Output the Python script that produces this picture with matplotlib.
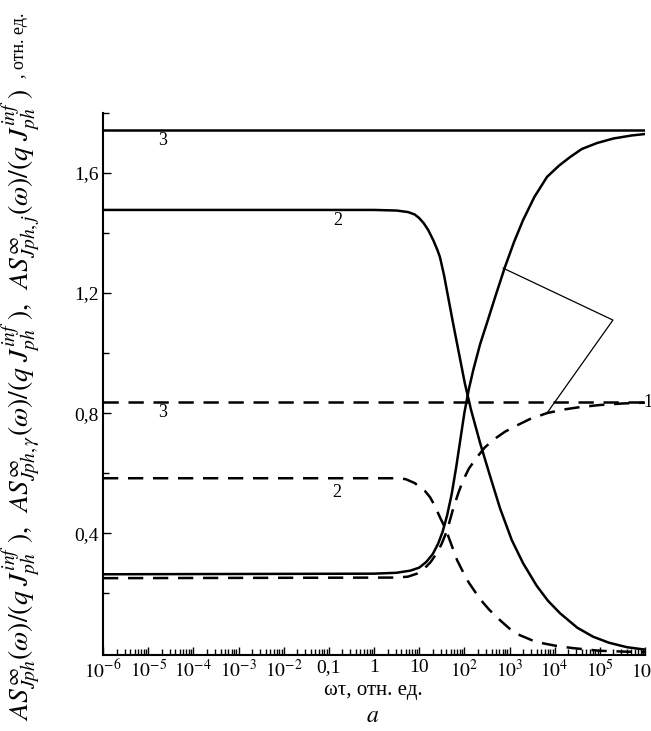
import numpy as np
import matplotlib
matplotlib.use("Agg")
import matplotlib.pyplot as plt
from matplotlib.ticker import FixedLocator, LogLocator, NullFormatter

plt.rcParams['font.family'] = ['Liberation Serif', 'DejaVu Serif']
plt.rcParams['mathtext.fontset'] = 'stix'
plt.rcParams['lines.scale_dashes'] = False

# ---- data (log10 of omega*tau, value) ----
solid1_logx = [-6, 0, 0.5, 0.8, 1.0, 1.15, 1.3, 1.42, 1.52, 1.62, 1.72, 1.82, 1.9, 2.0, 2.1, 2.2, 2.35, 2.5, 2.7,
               2.9, 3.1, 3.3, 3.55, 3.83, 4.1, 4.34, 4.6, 4.94, 5.3, 5.7, 6.0]
solid1_y    = [0.263, 0.265, 0.268, 0.275, 0.285, 0.303, 0.33, 0.365, 0.405, 0.46, 0.53, 0.62, 0.70, 0.80, 0.88, 0.945, 1.03, 1.10, 1.195,
               1.287, 1.37, 1.443, 1.52, 1.587, 1.625, 1.653, 1.68, 1.70, 1.715, 1.725, 1.73]

solid2_logx = [-6, 0, 0.5, 0.75, 0.9, 1.0, 1.1, 1.2, 1.31, 1.4, 1.46, 1.55, 1.65, 1.75, 1.88, 2.01, 2.15, 2.35, 2.55,
               2.79, 3.05, 3.3, 3.6, 3.85, 4.12, 4.5, 4.85, 5.2, 5.6, 6.0]
solid2_y    = [1.477, 1.477, 1.475, 1.47, 1.462, 1.45, 1.433, 1.41, 1.377, 1.345, 1.32, 1.26, 1.18, 1.10, 1.0, 0.90, 0.81, 0.70, 0.60,
               0.483, 0.377, 0.30, 0.225, 0.175, 0.133, 0.085, 0.055, 0.035, 0.02, 0.012]

dash1_logx = [-6, 0.5, 0.75, 0.95, 1.1, 1.25, 1.39, 1.5, 1.62, 1.75, 1.87, 1.97, 2.1, 2.28, 2.45, 2.65, 2.9, 3.15, 3.45,
              3.83, 4.2, 4.56, 5.0, 5.5, 6.0]
dash1_y    = [0.25, 0.252, 0.255, 0.265, 0.28, 0.303, 0.333, 0.365, 0.41, 0.48, 0.535, 0.575, 0.615, 0.653, 0.685, 0.712, 0.738, 0.758, 0.78,
              0.80, 0.812, 0.82, 0.827, 0.832, 0.835]

dash2_logx = [-6, 0.5, 0.7, 0.9, 1.02, 1.13, 1.24, 1.35, 1.46, 1.55, 1.62, 1.73, 1.84, 1.95, 2.1, 2.35, 2.55, 2.79, 3.0,
              3.23, 3.5, 3.74, 4.05, 4.4, 5.0, 6.0]
dash2_y    = [0.583, 0.583, 0.58, 0.567, 0.553, 0.54, 0.52, 0.49, 0.453, 0.425, 0.40, 0.355, 0.31, 0.277, 0.235, 0.18, 0.145, 0.11, 0.082,
              0.06, 0.043, 0.033, 0.024, 0.017, 0.008, 0.003]

solid3_level = 1.743
dash3_level = 0.837

xtick_exp = list(range(-6, 7))
xtick_labels = [r'$10^{-6}$', r'$10^{-5}$', r'$10^{-4}$', r'$10^{-3}$', r'$10^{-2}$', '0,1', '1', '10',
                r'$10^{2}$', r'$10^{3}$', r'$10^{4}$', r'$10^{5}$', r'$10^{6}$']
ytick_vals = [0.4, 0.8, 1.2, 1.6]
ytick_labels = ['0,4', '0,8', '1,2', '1,6']

fig = plt.figure(figsize=(6.51, 7.31), dpi=100)
ax = fig.add_axes([103/651, 1-655/731, (645-103)/651, (655-113)/731])

lw = 1.8
dash = (11, 7)
xs = lambda l: 10.0 ** np.asarray(l, dtype=float)

ax.plot(xs(solid1_logx), solid1_y, color='black', lw=lw, solid_joinstyle='round')
ax.plot(xs(solid2_logx), solid2_y, color='black', lw=lw, solid_joinstyle='round')
ax.plot(xs([-6, 6]), [solid3_level, solid3_level], color='black', lw=lw)
ax.plot(xs(dash1_logx), dash1_y, color='black', lw=lw, dashes=dash)
ax.plot(xs(dash2_logx), dash2_y, color='black', lw=lw, dashes=dash)
ax.plot(xs([-6, 6]), [dash3_level, dash3_level], color='black', lw=lw, dashes=dash)

# annotation lines for curve 1
ax.plot(xs([2.86, 5.29, 3.83]), [1.283, 1.11, 0.80], color='black', lw=0.9)

fs = 13
ax.text(10**-4.69, 1.707, '3', fontsize=fs, ha='center', va='center')
ax.text(10**-0.80, 1.443, '2', fontsize=fs, ha='center', va='center')
ax.text(10**-4.69, 0.803, '3', fontsize=fs, ha='center', va='center')
ax.text(10**-0.82, 0.537, '2', fontsize=fs, ha='center', va='center')
ax.text(10**5.96, 0.837, '1', fontsize=fs, ha='left', va='center', clip_on=False)

ax.set_xscale('log')
ax.set_xlim(1e-6, 1e6)
ax.set_ylim(-0.006, 1.8)

ax.xaxis.set_major_locator(FixedLocator([10.0**e for e in xtick_exp]))
ax.set_xticklabels(xtick_labels)
ax.xaxis.set_minor_locator(LogLocator(base=10, subs=np.arange(2, 10), numticks=100))
ax.xaxis.set_minor_formatter(NullFormatter())
ax.yaxis.set_major_locator(FixedLocator(ytick_vals))
ax.set_yticklabels(ytick_labels)
ax.yaxis.set_minor_locator(FixedLocator([0.2, 0.6, 1.0, 1.4, 1.8]))

for s in ['top', 'right']:
    ax.spines[s].set_visible(False)
for s in ['left', 'bottom']:
    ax.spines[s].set_linewidth(1.5)

ax.tick_params(axis='both', which='major', direction='in', length=6, width=1.0, labelsize=14, pad=3)
ax.tick_params(axis='both', which='minor', direction='in', length=4, width=1.0)

fig.text(373/651, 1-690/731, 'ωτ, отн. ед.', fontsize=15, ha='center', va='center')
fig.text(373/651, 1-716/731, '$a$', fontsize=17, ha='center', va='center')

ylab = (r'$AS^{\infty}_{Jph}(\omega)/(q\;J^{inf}_{ph}\;),\;\;AS^{\infty}_{Jph,\gamma}(\omega)/(q\;J^{inf}_{ph}\;),\;\;'
        r'AS^{\infty}_{Jph,j}(\omega)/(q\;J^{inf}_{ph}\;)$')
fig.text(22/651, 1-405/731, ylab, fontsize=20, rotation=90, ha='center', va='center')
fig.text(20/651, 1-45/731, ', отн. ед.', fontsize=13, rotation=90, ha='center', va='center')

fig.savefig('out.png', dpi=100)
